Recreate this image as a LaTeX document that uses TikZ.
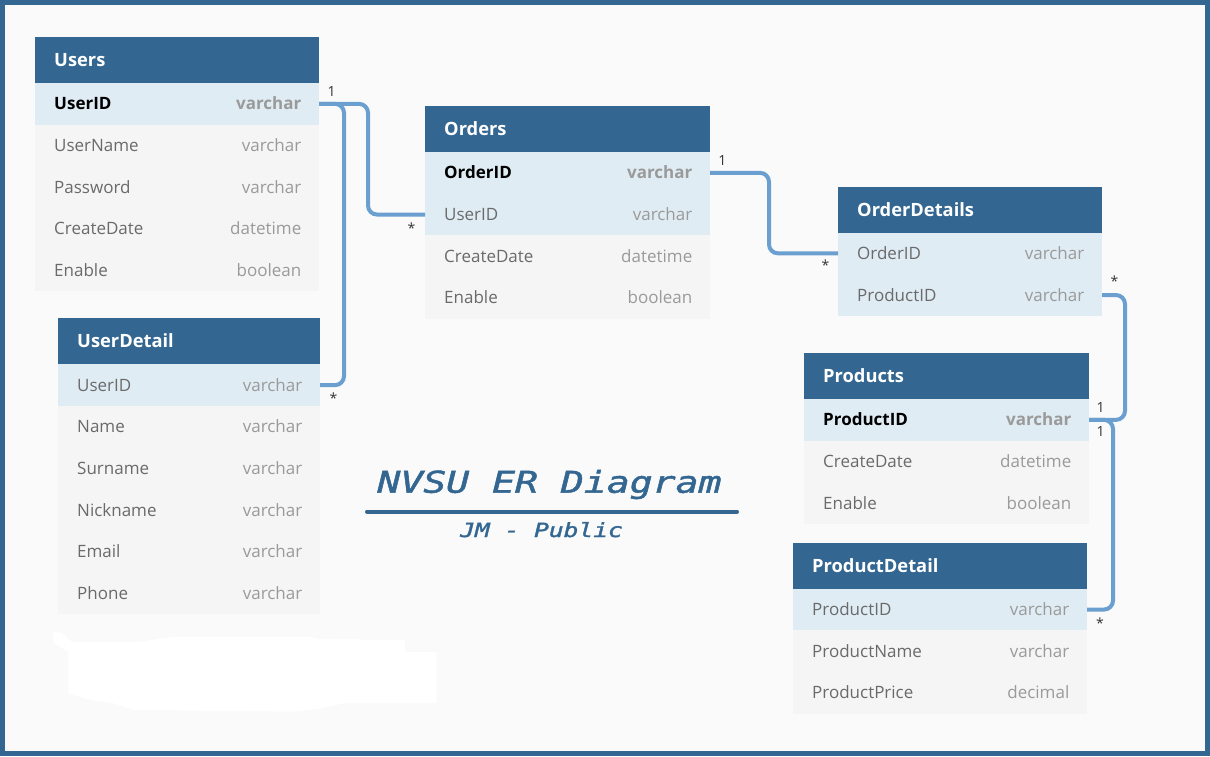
\documentclass[tikz,border=0pt]{standalone}
\usepackage{fontspec}
\setmainfont{Open Sans}
\newfontfamily\ertitlefont[BoldItalicFont={DejaVu Sans Mono Oblique}, BoldItalicFeatures={FakeBold=1.5}]{DejaVu Sans Mono}
\definecolor{frameblue}{HTML}{336791}
\definecolor{hdrblue}{HTML}{336791}
\definecolor{keyblue}{HTML}{DFECF4}
\definecolor{rowgray}{HTML}{F5F5F5}
\definecolor{pagebg}{HTML}{FAFAFA}
\definecolor{connblue}{HTML}{6A9FCF}
\definecolor{fieldgray}{HTML}{6A6A6A}
\definecolor{typegray}{HTML}{9A9A9A}
\definecolor{cardgray}{HTML}{333333}
\newcommand\ertrowfont{\fontsize{17}{20}\selectfont}
\tikzset{
 hdr/.style={fill=hdrblue, draw=none, minimum height=46pt, inner sep=0pt, outer sep=0pt},
 hdrtext/.style={text=white, font=\fontsize{18.3}{22}\selectfont\bfseries, inner sep=0pt},
 rowbox/.style={draw=none, minimum height=41.7pt, inner sep=0pt, outer sep=0pt},
 keybg/.style={fill=keyblue},
 plainbg/.style={fill=rowgray},
 fname/.style={text=fieldgray, font=\ertrowfont, inner sep=0pt},
 ftype/.style={text=typegray, font=\ertrowfont, inner sep=0pt},
 kname/.style={text=black, font=\ertrowfont\bfseries, inner sep=0pt},
 ktype/.style={text=typegray, font=\ertrowfont\bfseries, inner sep=0pt},
 conn/.style={draw=connblue, line width=4pt, rounded corners=9pt},
 card/.style={text=cardgray, font=\fontsize{14}{16}\selectfont, inner sep=0pt},
 titletext/.style={text=hdrblue, inner sep=0pt},
}
\newcommand\tblhead[5]{%
 \node[hdr, minimum width=#4pt, anchor=north west] (#1) at (#2,#3) {};
 \node[hdrtext, anchor=base west] (#1-t) at ([xshift=19pt,yshift=-6.6pt]#1.west) {#5};}
\newcommand\tblrow[9]{%
 \node[rowbox,#5,minimum width=#4pt,anchor=north west] (#1) at (#2,#3) {};
 \node[#6,anchor=base west] (#1-n) at ([xshift=19pt,yshift=-6pt]#1.west) {#8};
 \node[#7,anchor=base east] (#1-t) at ([xshift=-17.5pt,yshift=-6pt]#1.east) {#9};}
\begin{document}
\begin{tikzpicture}[x=1pt,y=-1pt]
% frame and page
\fill[frameblue] (0,0) rectangle (1210,756);
\fill[pagebg] (5,5) rectangle (1205,750.7);
\useasboundingbox (0,0) rectangle (1210,756);
% white smudge
\fill[white] (53.3,632.3) -- (61.7,632.3) -- (71.7,641.7) -- (140,641.7) -- (173.3,636.7) -- (310,636.7) -- (316.7,639) -- (405,640) -- (405,651.7) -- (436.7,652.3) -- (436.7,703.3) -- (343.3,703.3) -- (316.7,709.3) -- (293.3,711.7) -- (133.3,710) -- (113.3,703.3) -- (90,700) -- (68.3,693.3) -- (68.3,652.3) -- (53.3,642.3) -- cycle;

% Users
\tblhead{users}{35}{37}{284}{Users}
\tblrow{u1}{35}{83}{284}{keybg}{kname}{ktype}{UserID}{varchar}
\tblrow{u2}{35}{124.7}{284}{plainbg}{fname}{ftype}{UserName}{varchar}
\tblrow{u3}{35}{166.3}{284}{plainbg}{fname}{ftype}{Password}{varchar}
\tblrow{u4}{35}{208}{284}{plainbg}{fname}{ftype}{CreateDate}{datetime}
\tblrow{u5}{35}{249.7}{284}{plainbg}{fname}{ftype}{Enable}{boolean}

% UserDetail
\tblhead{userdetail}{58}{318.3}{262}{UserDetail}
\tblrow{ud1}{58}{364.3}{262}{keybg}{fname}{ftype}{UserID}{varchar}
\tblrow{ud2}{58}{406}{262}{plainbg}{fname}{ftype}{Name}{varchar}
\tblrow{ud3}{58}{447.7}{262}{plainbg}{fname}{ftype}{Surname}{varchar}
\tblrow{ud4}{58}{489.3}{262}{plainbg}{fname}{ftype}{Nickname}{varchar}
\tblrow{ud5}{58}{531}{262}{plainbg}{fname}{ftype}{Email}{varchar}
\tblrow{ud6}{58}{572.7}{262}{plainbg}{fname}{ftype}{Phone}{varchar}

% Orders
\tblhead{orders}{425}{106}{285}{Orders}
\tblrow{o1}{425}{152}{285}{keybg}{kname}{ktype}{OrderID}{varchar}
\tblrow{o2}{425}{193.7}{285}{keybg}{fname}{ftype}{UserID}{varchar}
\tblrow{o3}{425}{235.3}{285}{plainbg}{fname}{ftype}{CreateDate}{datetime}
\tblrow{o4}{425}{277}{285}{plainbg}{fname}{ftype}{Enable}{boolean}

% OrderDetails
\tblhead{orderdetails}{838}{186.5}{264}{OrderDetails}
\tblrow{od1}{838}{232.5}{264}{keybg}{fname}{ftype}{OrderID}{varchar}
\tblrow{od2}{838}{274.2}{264}{keybg}{fname}{ftype}{ProductID}{varchar}

% Products
\tblhead{products}{804}{353}{285}{Products}
\tblrow{p1}{804}{399}{285}{keybg}{kname}{ktype}{ProductID}{varchar}
\tblrow{p2}{804}{440.7}{285}{plainbg}{fname}{ftype}{CreateDate}{datetime}
\tblrow{p3}{804}{482.3}{285}{plainbg}{fname}{ftype}{Enable}{boolean}

% ProductDetail
\tblhead{productdetail}{793}{542.7}{294}{ProductDetail}
\tblrow{pd1}{793}{588.7}{294}{keybg}{fname}{ftype}{ProductID}{varchar}
\tblrow{pd2}{793}{630.4}{294}{plainbg}{fname}{ftype}{ProductName}{varchar}
\tblrow{pd3}{793}{672}{294}{plainbg}{fname}{ftype}{ProductPrice}{decimal}

% connector bends
\coordinate (v1) at (368,0);
\coordinate (v2) at (344,0);
\coordinate (v3) at (769,0);
\coordinate (v4) at (1125,0);
\coordinate (v5) at (1113,0);

\draw[conn] (u1.east) -- (u1.east -| v1) |- (o2.west);
\draw[conn] (u1.east) -- (u1.east -| v2) |- (ud1.east);
\draw[conn] (o1.east) -- (o1.east -| v3) |- (od1.west);
\draw[conn] (od2.east) -- (od2.east -| v4) |- (p1.east);
\draw[conn] (p1.east) -- (p1.east -| v5) |- (pd1.east);

% cardinalities
\node[card] (l1) at (331.7,91.7) {1};
\node[card,anchor=base] (l2) at (411.5,233) {*};
\node[card,anchor=base] (l3) at (333.5,403) {*};
\node[card] (l4) at (722.3,160) {1};
\node[card,anchor=base] (l5) at (825.5,270.5) {*};
\node[card,anchor=base] (l6) at (1114.5,286.5) {*};
\node[card] (l7) at (1100.7,407.7) {1};
\node[card] (l8) at (1100.7,431.5) {1};
\node[card,anchor=base] (l9) at (1100,628) {*};

% title
\node[titletext,anchor=base] (title) at (549.5,492.7) {\scalebox{1.27}[1]{\fontsize{30}{34}\ertitlefont\bfseries\itshape NVSU ER Diagram}};
\coordinate (ula) at (367,511.5);
\coordinate (ulb) at (737,511.5);
\draw[hdrblue, line width=4pt, line cap=round] (ula) -- (ulb);
\node[titletext,anchor=base] (subtitle) at (541.5,537) {\scalebox{1.26}[1]{\fontsize{19.5}{23}\ertitlefont\bfseries\itshape JM - Public}};
\end{tikzpicture}
\end{document}
